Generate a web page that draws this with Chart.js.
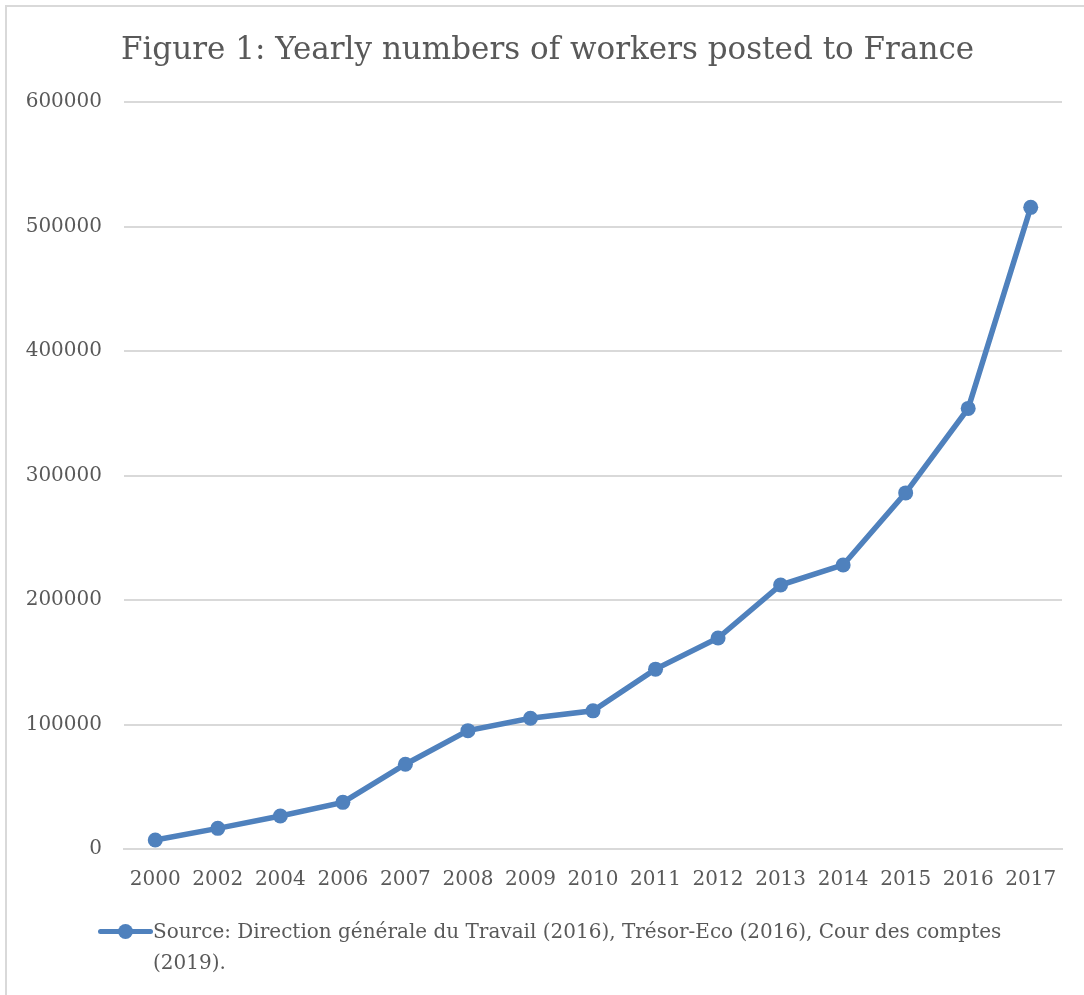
<!DOCTYPE html>
<html>
<head>
<meta charset="utf-8">
<script src="https://cdn.jsdelivr.net/npm/chart.js@4"></script>
<style>
  html, body { margin: 0; padding: 0; background: #fff; }
  #wrap { position: relative; width: 1084px; height: 995px; overflow: hidden; }
  #viz { display: block; }
  #frame { position: absolute; left: 5px; top: 5px; right: 0; bottom: 0;
           border-left: 2px solid #d9d9d9; border-top: 2px solid #d9d9d9; }
  #legend { position: absolute; left: 98px; top: 916px; width: 925px;
            font-family: "DejaVu Serif", serif; font-size: 20px; line-height: 31px;
            color: #595959; display: flex; align-items: flex-start; }
  #legend .mark { position: relative; width: 55px; height: 31px; flex: none; }
  #legend .mark::before { content: ''; position: absolute; left: 0; right: 0; top: 13px;
            height: 5px; background: #4f81bd; border-radius: 3px; }
  #legend .mark::after { content: ''; position: absolute; left: 20px; top: 8px;
            width: 15px; height: 15px; background: #4f81bd; border-radius: 50%; }
</style>
</head>
<body>
<div id="wrap">
  <div id="frame"></div>
  <canvas id="viz" width="1084" height="995"></canvas>
  <div id="legend"><span class="mark"></span><span id="legendText"></span></div>
</div>
<script>
// Data
const TITLE = 'Figure 1: Yearly numbers of workers posted to France';
const SERIES_LABEL = 'Source: Direction générale du Travail (2016), Trésor-Eco (2016), Cour des comptes (2019).';
const YEARS = ['2000', '2002', '2004', '2006', '2007', '2008', '2009', '2010',
               '2011', '2012', '2013', '2014', '2015', '2016', '2017'];
const WORKERS = [7200, 16600, 26500, 37500, 68100, 95100, 105100, 111000,
                 144500, 169500, 212100, 228200, 286100, 354000, 515500];
const Y_MAX = 600000;
const Y_STEP = 100000;

const BLUE = '#4f81bd';
const GRID = '#d9d9d9';
const TEXT = '#595959';
const FONT = '"DejaVu Serif", serif';

document.getElementById('legendText').textContent = SERIES_LABEL;

const ctx = document.getElementById('viz').getContext('2d');
new Chart(ctx, {
  type: 'line',
  data: {
    labels: YEARS,
    datasets: [{
      label: SERIES_LABEL,
      data: WORKERS,
      borderColor: BLUE,
      backgroundColor: BLUE,
      borderWidth: 5.5,
      pointRadius: 7.5,
      pointBorderWidth: 0,
      pointBackgroundColor: BLUE,
      tension: 0
    }]
  },
  options: {
    responsive: false,
    animation: false,
    layout: { padding: { left: 11, right: 0, top: 0, bottom: 103 } },
    plugins: {
      legend: { display: false },
      tooltip: { enabled: false },
      title: {
        display: true,
        text: TITLE,
        color: TEXT,
        font: { family: FONT, size: 31, weight: 'normal' },
        padding: { top: 32, bottom: 33 }
      }
    },
    scales: {
      x: {
        offset: true,
        grid: { display: false, drawTicks: false },
        border: { display: true, color: GRID, width: 2 },
        ticks: { color: TEXT, font: { family: FONT, size: 20 }, padding: 19, maxRotation: 0, autoSkip: false },
        afterFit: (scale) => { scale.height = 43; }
      },
      y: {
        min: 0,
        max: Y_MAX,
        grid: { color: GRID, lineWidth: 2, drawTicks: false },
        border: { display: false },
        ticks: { stepSize: Y_STEP, color: TEXT, font: { family: FONT, size: 20 }, padding: 22,
                 callback: (v) => String(v) },
        afterFit: (scale) => { scale.width = 113; }
      },
      // empty right-hand gutter
      yRight: {
        position: 'right',
        min: 0,
        max: Y_MAX,
        grid: { display: false, drawTicks: false },
        border: { display: false },
        ticks: { display: false },
        afterFit: (scale) => { scale.width = 22; }
      }
    }
  }
});
</script>
</body>
</html>
